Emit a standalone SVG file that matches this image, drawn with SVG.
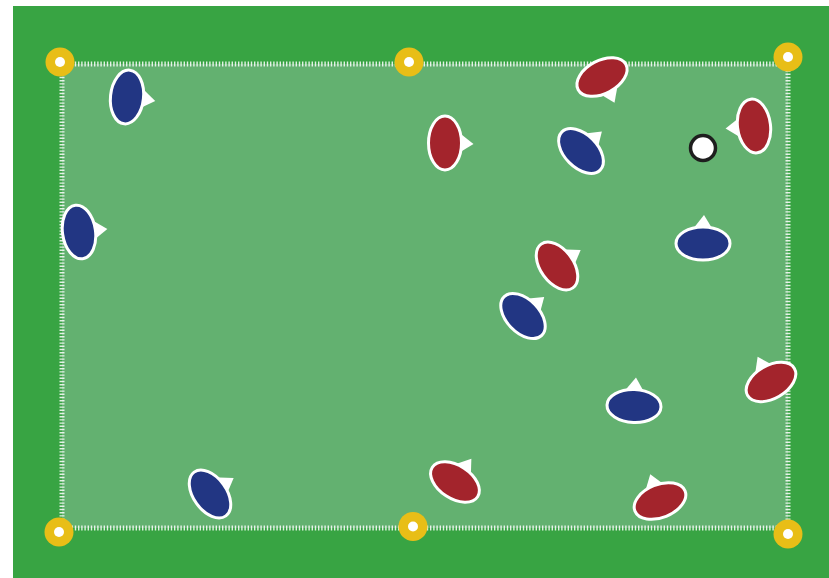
<svg xmlns="http://www.w3.org/2000/svg" width="829" height="578" viewBox="0 0 829 578">
<defs>
<style>
.ptr{fill:#ffffff}
.blue{fill:#223683;stroke:#ffffff;stroke-width:3}
.red{fill:#a3242c;stroke:#ffffff;stroke-width:3}
.tick{stroke:#ffffff;stroke-width:5;stroke-dasharray:1.4 1.8;opacity:0.85;fill:none}
.cone{fill:#e8be17}
.dot{fill:#ffffff}
</style>
<g id="pl-shape">
<path class="ptr" d="M12,-12 L28.5,1 L12,11 Z"/>
</g>
</defs>
<rect id="background" x="0" y="0" width="829" height="578" fill="#ffffff"/>
<rect id="pitch" x="13" y="6" width="816" height="572" fill="#38a443"/>
<rect id="field" x="62" y="64" width="726" height="464" fill="#63b170"/>
<g id="lines">
<line class="tick" x1="62" y1="64" x2="788" y2="64"/>
<line class="tick" x1="62" y1="528" x2="788" y2="528"/>
<line class="tick" x1="62" y1="64" x2="62" y2="528"/>
<line class="tick" x1="788" y1="64" x2="788" y2="528"/>
</g>
<g id="cones">
<g id="cone1"><circle class="cone" cx="60" cy="62" r="14.5"/><circle class="dot" cx="60" cy="62" r="5"/></g>
<g id="cone2"><circle class="cone" cx="409" cy="62" r="14.5"/><circle class="dot" cx="409" cy="62" r="5"/></g>
<g id="cone3"><circle class="cone" cx="788" cy="57" r="14.5"/><circle class="dot" cx="788" cy="57" r="5"/></g>
<g id="cone4"><circle class="cone" cx="59" cy="532" r="14.5"/><circle class="dot" cx="59" cy="532" r="5"/></g>
<g id="cone5"><circle class="cone" cx="413" cy="526.5" r="14.5"/><circle class="dot" cx="413" cy="526.5" r="5"/></g>
<g id="cone6"><circle class="cone" cx="788" cy="534" r="14.5"/><circle class="dot" cx="788" cy="534" r="5"/></g>
</g>
<g id="blue-team">
<g id="blue1" transform="translate(127,97) rotate(6)"><use href="#pl-shape"/><ellipse class="blue" rx="16.5" ry="27"/></g>
<g id="blue2" transform="translate(79,232) rotate(-8)"><use href="#pl-shape"/><ellipse class="blue" rx="16.5" ry="27"/></g>
<g id="blue3" transform="translate(581,151) rotate(-45)"><use href="#pl-shape"/><ellipse class="blue" rx="16.5" ry="27"/></g>
<g id="blue4" transform="translate(703,243.5) rotate(-90)"><use href="#pl-shape"/><ellipse class="blue" rx="16.5" ry="27"/></g>
<g id="blue5" transform="translate(523,316) rotate(-44)"><use href="#pl-shape"/><ellipse class="blue" rx="16.5" ry="27"/></g>
<g id="blue6" transform="translate(634,406) rotate(-88)"><use href="#pl-shape"/><ellipse class="blue" rx="16.5" ry="27"/></g>
<g id="blue7" transform="translate(210,494) rotate(-36)"><use href="#pl-shape"/><ellipse class="blue" rx="16.5" ry="27"/></g>
</g>
<g id="red-team">
<g id="red1" transform="translate(602,77) rotate(62)"><use href="#pl-shape"/><ellipse class="red" rx="16.5" ry="27"/></g>
<g id="red2" transform="translate(445,143) rotate(0)"><use href="#pl-shape"/><ellipse class="red" rx="16.5" ry="27"/></g>
<g id="red3" transform="translate(754,126) rotate(173)"><use href="#pl-shape"/><ellipse class="red" rx="16.5" ry="27"/></g>
<g id="red4" transform="translate(557,266) rotate(-36)"><use href="#pl-shape"/><ellipse class="red" rx="16.5" ry="27"/></g>
<g id="red5" transform="translate(771,382) rotate(-120)"><use href="#pl-shape"/><ellipse class="red" rx="16.5" ry="27"/></g>
<g id="red6" transform="translate(455,482) rotate(-57)"><use href="#pl-shape"/><ellipse class="red" rx="16.5" ry="27"/></g>
<g id="red7" transform="translate(660,501) rotate(-112)"><use href="#pl-shape"/><ellipse class="red" rx="16.5" ry="27"/></g>
</g>
<g id="ball"><circle cx="703" cy="148" r="12.5" fill="#ffffff" stroke="#1e1e1e" stroke-width="3.5"/></g>
</svg>
